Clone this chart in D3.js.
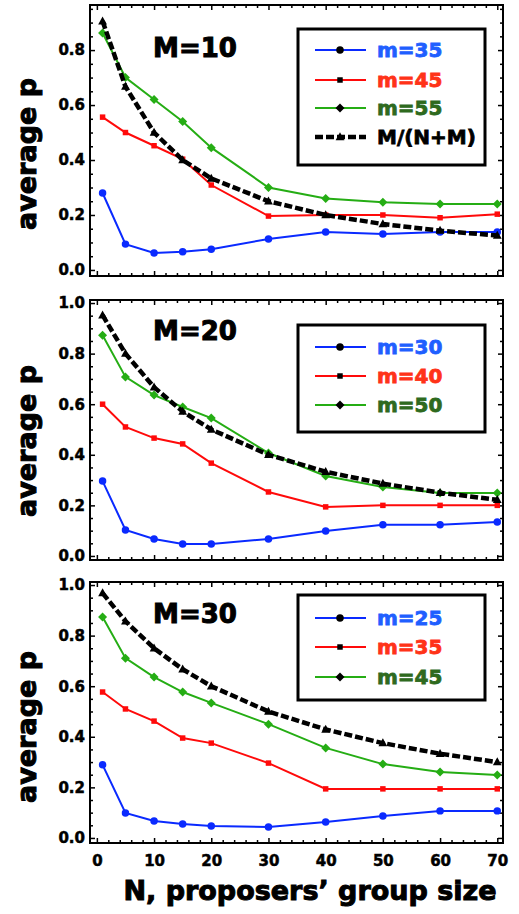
<!DOCTYPE html>
<html><head><meta charset="utf-8">
<script src="https://cdn.jsdelivr.net/npm/d3@7"></script>
<style>
body{margin:0;background:#fff;}
svg{display:block;}
text{font-family:"DejaVu Sans",sans-serif;font-weight:bold;}
</style></head>
<body>
<svg id="chart" width="519" height="914"></svg>
<script>
// ---------- data ----------
const Nvals = [1,5,10,15,20,30,40,50,60,70];
const xTicks = [0,10,20,30,40,50,60,70];
const panelTitles = ["M=10","M=20","M=30"];

// Panel M=10
const p1_blue  = [0.28,0.094,0.062,0.066,0.075,0.113,0.138,0.131,0.138,0.138];
const p1_red   = [0.556,0.50,0.452,0.403,0.309,0.196,0.20,0.20,0.19,0.203];
const p1_green = [0.862,0.70,0.62,0.54,0.445,0.30,0.26,0.246,0.24,0.24];
const p1_black = [0.905,0.667,0.50,0.40,0.333,0.25,0.20,0.167,0.143,0.125];
const p1_labels = ["m=35","m=45","m=55","M/(N+M)"];
const p1_yticks = [0,0.2,0.4,0.6,0.8];

// Panel M=20
const p2_blue  = [0.296,0.103,0.067,0.047,0.047,0.067,0.099,0.123,0.123,0.134];
const p2_red   = [0.60,0.51,0.466,0.443,0.367,0.253,0.194,0.20,0.20,0.20];
const p2_green = [0.873,0.708,0.636,0.589,0.545,0.407,0.316,0.273,0.249,0.249];
const p2_black = [0.952,0.80,0.667,0.571,0.50,0.40,0.333,0.286,0.25,0.222];
const p2_labels = ["m=30","m=40","m=50"];
const p2_yticks = [0,0.2,0.4,0.6,0.8,1.0];

// Panel M=30
const p3_blue  = [0.289,0.099,0.067,0.055,0.047,0.043,0.063,0.087,0.107,0.107];
const p3_red   = [0.577,0.51,0.462,0.395,0.375,0.296,0.194,0.194,0.194,0.194];
const p3_green = [0.874,0.711,0.636,0.577,0.534,0.45,0.356,0.292,0.261,0.249];
const p3_black = [0.968,0.857,0.75,0.667,0.60,0.50,0.429,0.375,0.333,0.30];
const p3_labels = ["m=25","m=35","m=45"];
const p3_yticks = [0,0.2,0.4,0.6,0.8,1.0];

// ---------- styles ----------
const lineColors = ["#0a2aff","#ff0a0a","#25ad14","#000000"];
const textColors = ["#1f5fff","#ff3318","#2e6a1e","#000000"];
const markerTypes = ["circle","square","diamond","triangle"];

const svg = d3.select("#chart");
const x = d3.scaleLinear().domain([-1.2,71]).range([90,503]);

const panels = [
  {title:panelTitles[0], series:[p1_blue,p1_red,p1_green,p1_black], labels:p1_labels, yt:p1_yticks,
   yd:[-0.022,0.964], yr:[276,5], titleY:57, ylabY:154,
   leg:{y0:29,y1:165,rows:[50,80,108,137]}},
  {title:panelTitles[1], series:[p2_blue,p2_red,p2_green,p2_black], labels:p2_labels, yt:p2_yticks,
   yd:[-0.016,1.012], yr:[560,300], titleY:340, ylabY:441,
   leg:{y0:325,y1:432,rows:[347,376,405]}},
  {title:panelTitles[2], series:[p3_blue,p3_red,p3_green,p3_black], labels:p3_labels, yt:p3_yticks,
   yd:[-0.02,1.012], yr:[843,582], titleY:623, ylabY:727,
   leg:{y0:595,y1:700,rows:[618,647,677]}}
];

function markerPath(type){
  if(type==="circle") return d3.symbol(d3.symbolCircle,44)();
  if(type==="square") return d3.symbol(d3.symbolSquare,30)();
  if(type==="diamond") return "M0,-4.5L4.5,0L0,4.5L-4.5,0Z";
  return "M0,-4.8L4.4,3.2L-4.4,3.2Z";
}

const minorX = d3.range(0,71,2).filter(v=>v%10!==0);

panels.forEach((p,pi)=>{
  const y = d3.scaleLinear().domain(p.yd).range(p.yr);
  const g = svg.append("g");
  const top = p.yr[1], bot = p.yr[0];
  const minorY = d3.range(0,1.001,0.05).filter(v=>v<=p.yd[1] && Math.abs(v*5-Math.round(v*5))>1e-6);

  // axes (ticks inward)
  g.append("g").attr("transform","translate(90,0)")
    .call(d3.axisLeft(y).tickValues(p.yt).tickSize(-5).tickPadding(5).tickFormat(d3.format(".1f")));
  g.append("g").attr("transform","translate(90,0)")
    .call(d3.axisLeft(y).tickValues(minorY).tickSize(-3).tickFormat(""));
  g.append("g").attr("transform","translate(503,0)")
    .call(d3.axisRight(y).tickValues(p.yt).tickSize(-5).tickFormat(""));
  g.append("g").attr("transform","translate(503,0)")
    .call(d3.axisRight(y).tickValues(minorY).tickSize(-3).tickFormat(""));
  g.append("g").attr("transform",`translate(0,${bot})`)
    .call(d3.axisBottom(x).tickValues(xTicks).tickSize(-5).tickPadding(12)
      .tickFormat(pi===2 ? d3.format("d") : ""));
  g.append("g").attr("transform",`translate(0,${bot})`)
    .call(d3.axisBottom(x).tickValues(minorX).tickSize(-3).tickFormat(""));
  g.append("g").attr("transform",`translate(0,${top})`)
    .call(d3.axisTop(x).tickValues(xTicks).tickSize(-5).tickFormat(""));
  g.append("g").attr("transform",`translate(0,${top})`)
    .call(d3.axisTop(x).tickValues(minorX).tickSize(-3).tickFormat(""));
  g.selectAll(".domain").remove();
  g.selectAll(".tick line").attr("stroke","#000").attr("stroke-width",1.5);
  g.selectAll(".tick text").attr("font-size",15).attr("font-family","DejaVu Sans").attr("font-weight","bold")
    .attr("fill","#000").attr("stroke","#000").attr("stroke-width",0.5);

  // series
  const line = d3.line().x((d,i)=>x(Nvals[i])).y(d=>y(d));
  p.series.forEach((s,si)=>{
    const isBlack = si===3;
    g.append("path").datum(s).attr("d",line).attr("fill","none")
      .attr("stroke",lineColors[si]).attr("stroke-width",isBlack?4.5:2)
      .attr("stroke-dasharray",isBlack?"8,3":null);
    g.selectAll(null).data(s).enter().append("path")
      .attr("d",markerPath(markerTypes[si]))
      .attr("transform",(d,i)=>`translate(${x(Nvals[i])},${y(d)})`)
      .attr("fill",lineColors[si]);
  });

  // frame
  g.append("rect").attr("x",90).attr("y",top).attr("width",413).attr("height",bot-top)
    .attr("fill","none").attr("stroke","#000").attr("stroke-width",2);

  // title
  g.append("text").attr("x",195).attr("y",p.titleY).attr("text-anchor","middle")
    .attr("font-size",26).attr("stroke","#000").attr("stroke-width",1).text(p.title);

  // y label
  g.append("text").attr("transform",`translate(36,${p.ylabY}) rotate(-90)`)
    .attr("text-anchor","middle").attr("font-size",27)
    .attr("stroke","#000").attr("stroke-width",1).text("average p");

  // legend
  const L = p.leg;
  g.append("rect").attr("x",298).attr("y",L.y0).attr("width",187).attr("height",L.y1-L.y0)
    .attr("fill","#fff").attr("stroke","#000").attr("stroke-width",3);
  p.labels.forEach((lab,li)=>{
    const ry = L.rows[li];
    const isBlack = li===3;
    g.append("line").attr("x1",315).attr("x2",366).attr("y1",ry).attr("y2",ry)
      .attr("stroke",lineColors[li]).attr("stroke-width",isBlack?4.5:2)
      .attr("stroke-dasharray",isBlack?"8,3":null);
    g.append("path").attr("d",markerPath(markerTypes[li]))
      .attr("transform",`translate(340,${ry})`).attr("fill","#000");
    g.append("text").attr("x",377).attr("y",ry+7).attr("font-size",20)
      .attr("fill",textColors[li]).attr("stroke",textColors[li]).attr("stroke-width",0.8).text(lab);
  });
});

// x title
svg.append("text").attr("x",310).attr("y",900).attr("text-anchor","middle")
  .attr("font-size",27).attr("stroke","#000").attr("stroke-width",1)
  .text("N, proposers\u2019 group size");
</script>
</body></html>
